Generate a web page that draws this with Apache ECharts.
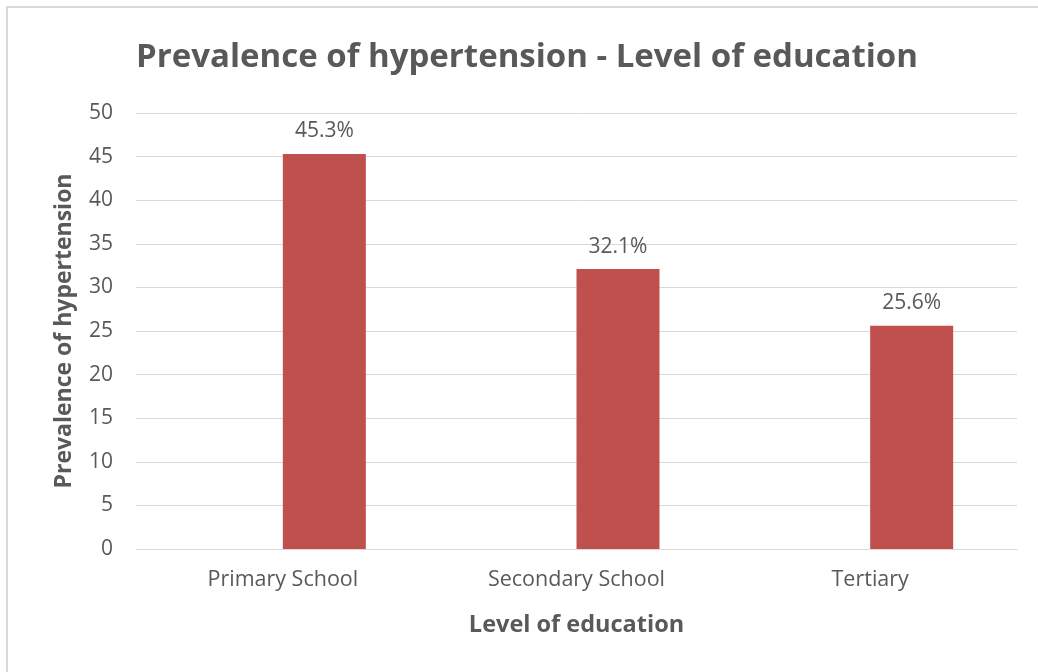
<!DOCTYPE html>
<html>
<head>
<meta charset="utf-8">
<script src="https://cdn.jsdelivr.net/npm/echarts@6/dist/echarts.min.js"></script>
<style>
  html, body { margin: 0; padding: 0; background: #fff; overflow: hidden; }
  .frame {
    position: absolute; left: 6px; top: 6px; width: 1100px; height: 700px;
    border: 2px solid #d9d9d9; box-sizing: border-box;
  }
  #chart { position: absolute; left: 0; top: 0; width: 1038px; height: 672px; }
</style>
</head>
<body>
<div class="frame"></div>
<div id="chart"></div>
<script>
// data
const categories = ['Primary School', 'Secondary School', 'Tertiary'];
const prevalence = [45.3, 32.1, 25.6];
// the source chart had an empty first series, so the bars sit right of the category centre
const emptySeries = [null, null, null];
const yTicks = { min: 0, max: 50, step: 5 };

const textColor = '#595959';
const font = '"Open Sans", "Noto Sans", sans-serif';

const myChart = echarts.init(document.getElementById('chart'));
myChart.setOption({
  animation: false,
  title: {
    text: 'Prevalence of hypertension - Level of education',
    left: 131,
    top: 36,
    textStyle: { color: textColor, fontSize: 33, fontWeight: 'bold', fontFamily: font }
  },
  grid: { left: 136, right: 21, top: 113, bottom: 123 },
  xAxis: {
    type: 'category',
    data: categories,
    name: 'Level of education',
    nameLocation: 'middle',
    nameGap: 64,
    nameTextStyle: { color: textColor, fontSize: 23.5, fontWeight: 'bold', fontFamily: font },
    axisLine: { lineStyle: { color: '#d9d9d9', width: 1 } },
    axisTick: { show: false },
    axisLabel: { color: textColor, fontSize: 21.5, margin: 20, fontFamily: font }
  },
  yAxis: {
    type: 'value',
    min: yTicks.min,
    max: yTicks.max,
    interval: yTicks.step,
    name: 'Prevalence of hypertension',
    nameLocation: 'middle',
    nameGap: 60,
    nameTextStyle: { color: textColor, fontSize: 23, fontWeight: 'bold', fontFamily: font },
    axisLine: { show: false },
    axisTick: { show: false },
    axisLabel: { color: textColor, fontSize: 21, margin: 23, fontFamily: font },
    splitLine: { lineStyle: { color: '#d9d9d9', width: 1 } }
  },
  series: [{
    type: 'bar',
    data: emptySeries,
    barWidth: 83,
    barGap: '0%',
    silent: true
  }, {
    type: 'bar',
    data: prevalence,
    barWidth: 83,
    barGap: '0%',
    itemStyle: { color: '#C0504D' },
    label: {
      show: true,
      position: 'top',
      distance: 12,
      formatter: p => p.value.toFixed(1) + '%',
      color: textColor,
      fontSize: 21,
      fontFamily: font
    }
  }]
});
</script>
</body>
</html>
